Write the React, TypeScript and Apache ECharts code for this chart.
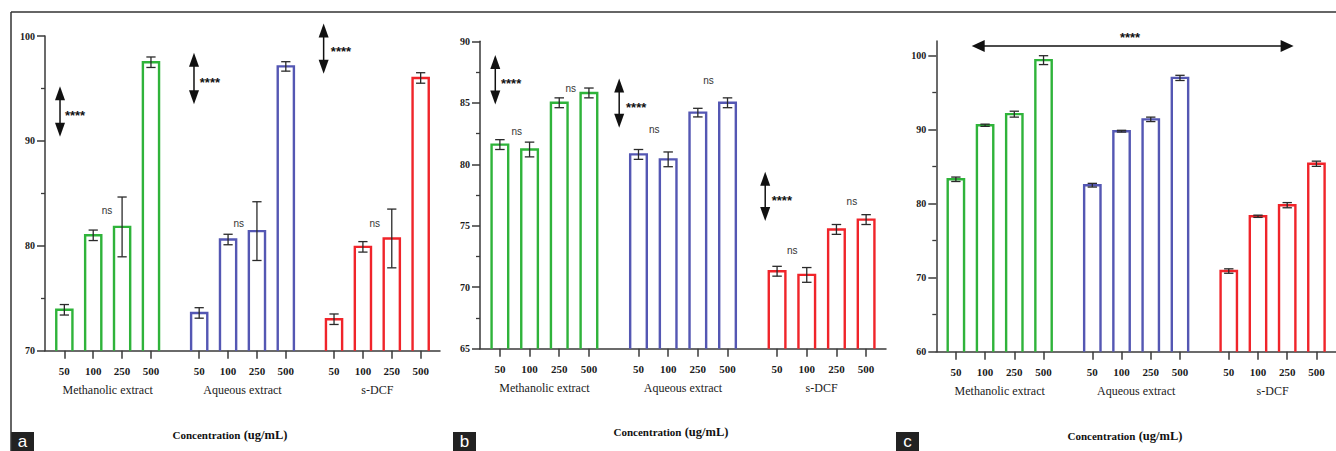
import React, { useEffect, useRef } from "react";
import * as echarts from "echarts";

// ---------- data ----------
const groups = ["Methanolic extract", "Aqueous extract", "s-DCF"];
const concentrations = ["50", "100", "250", "500"];
const groupColors = ["#2fb33a", "#5457b3", "#f0242a"];

const meansA = [73.9, 81.0, 81.8, 97.5, 73.6, 80.6, 81.4, 97.1, 73.0, 79.9, 80.7, 96.0];
const errorsA = [0.5, 0.5, 2.85, 0.5, 0.5, 0.5, 2.8, 0.45, 0.5, 0.5, 2.8, 0.5];
const meansB = [81.6, 81.2, 85.0, 85.8, 80.8, 80.4, 84.2, 85.0, 71.3, 71.0, 74.7, 75.5];
const errorsB = [0.4, 0.6, 0.4, 0.4, 0.4, 0.6, 0.35, 0.4, 0.4, 0.6, 0.4, 0.4];
const meansC = [83.3, 90.6, 92.1, 99.4, 82.5, 89.8, 91.4, 97.0, 70.9, 78.3, 79.8, 85.4];
const errorsC = [0.3, 0.15, 0.4, 0.6, 0.25, 0.12, 0.3, 0.35, 0.3, 0.15, 0.35, 0.35];

const yTicksA = [70, 80, 90, 100];
const yMinorA = [75, 85, 95];
const yTicksB = [65, 70, 75, 80, 85, 90];
const yMinorB = [67.5, 72.5, 77.5, 82.5, 87.5];
const yTicksC = [60, 70, 80, 90, 100];
const yMinorC = [65, 75, 85, 95];

// significance annotations (in axis units: x slot, y value)
const sigArrowsA = [[-0.15, 95.2, 90.4], [4.49, 98.4, 93.5], [8.98, 101.2, 96.4]];
const sigStarsA = [[0.02, 92.75], [4.69, 95.9], [9.23, 98.8]];
const nsA = [[1.475, 83.4], [6.04, 82.1], [10.75, 82.1]];

const sigArrowsB = [[-0.155, 88.88, 84.87], [4.02, 86.98, 82.97], [8.94, 79.39, 75.38]];
const sigStarsB = [[0.037, 86.85], [4.25, 84.9], [9.16, 77.33]];
const nsB = [[0.566, 82.7], [2.39, 86.14], [5.2, 82.8], [7.03, 86.85], [9.85, 73.0], [11.86, 76.95]];

const sigHArrowsC = [[0.542, 11.56, 101.3]];
const sigStarsC = [[5.96, 102.84]];

const panelLetters = ["a", "b", "c"];

// ---------- layout helpers ----------
const STRIDE = 4.67;
const PAD = 0.67;
const BAR_W = 0.56;
const CAP_HALF = 0.16;
const positions = groups.flatMap((_, g) => concentrations.map((__, i) => g * STRIDE + i));
const groupCenters = groups.map((_, g) => g * STRIDE + 1.5);
const X_MIN = -PAD;
const X_MAX = 2 * STRIDE + 3 + PAD;

const SERIF = "'Liberation Serif', 'Times New Roman', serif";
const SANS = "'Liberation Sans', Arial, sans-serif";
const AXIS_COLOR = "#3a3a3a";

const panels = [
  {
    means: meansA, errors: errorsA, yMin: 70, yMax: 100, yTicks: yTicksA, yMinor: yMinorA,
    grid: { left: 45, top: 36, width: 395, height: 314.7 },
    arrows: sigArrowsA, hArrows: [] as number[][], stars: sigStarsA, ns: nsA,
    title: { x: 230, y: 435 }, box: 11,
  },
  {
    means: meansB, errors: errorsB, yMin: 65, yMax: 90, yTicks: yTicksB, yMinor: yMinorB,
    grid: { left: 480, top: 41.3, width: 406, height: 307.4 },
    arrows: sigArrowsB, hArrows: [] as number[][], stars: sigStarsB, ns: nsB,
    title: { x: 671, y: 432 }, box: 453,
  },
  {
    means: meansC, errors: errorsC, yMin: 60, yMax: 102, yTicks: yTicksC, yMinor: yMinorC,
    grid: { left: 936.3, top: 40.9, width: 400, height: 310.8 },
    arrows: [] as number[][], hArrows: sigHArrowsC, stars: sigStarsC, ns: [] as number[][],
    title: { x: 1125, y: 436 }, box: 896,
  },
];

function buildOption() {
  const grid: any[] = [];
  const xAxis: any[] = [];
  const yAxis: any[] = [];
  const series: any[] = [];
  const graphic: any[] = [];

  panels.forEach((p, k) => {
    grid.push({ ...p.grid, containLabel: false });
    // main x axis: concentration labels
    xAxis.push({
      type: "value", gridIndex: k, min: X_MIN, max: X_MAX, position: "bottom", offset: 0,
      axisLine: { show: true, onZero: false, lineStyle: { color: AXIS_COLOR, width: 1.5 } },
      axisTick: { show: true, customValues: positions, length: 8, lineStyle: { color: AXIS_COLOR, width: 1.5 } },
      axisLabel: {
        show: true, customValues: positions, margin: 14.5,
        color: "#1a1a1a", fontFamily: SERIF, fontWeight: "bold", fontSize: 11,
        formatter: (v: number) => {
          const idx = positions.findIndex((q) => Math.abs(q - v) < 1e-6);
          return idx >= 0 ? concentrations[idx % 4] : "";
        },
      },
      splitLine: { show: false },
    });
    // group label axis
    xAxis.push({
      type: "value", gridIndex: k, min: X_MIN, max: X_MAX, position: "bottom", offset: 0,
      axisLine: { show: false, onZero: false },
      axisTick: { show: false },
      axisLabel: {
        show: true, customValues: groupCenters, margin: 33,
        color: "#1a1a1a", fontFamily: SERIF, fontSize: 12,
        formatter: (v: number) => {
          const idx = groupCenters.findIndex((q) => Math.abs(q - v) < 1e-6);
          return idx >= 0 ? groups[idx] : "";
        },
      },
      splitLine: { show: false },
    });
    // main y axis
    yAxis.push({
      type: "value", gridIndex: k, min: p.yMin, max: p.yMax, position: "left", offset: 0,
      axisLine: { show: true, onZero: false, lineStyle: { color: AXIS_COLOR, width: 1.5 } },
      axisTick: { show: true, customValues: p.yTicks, length: 8, lineStyle: { color: AXIS_COLOR, width: 1.5 } },
      axisLabel: {
        show: true, customValues: p.yTicks, margin: 10,
        color: "#1a1a1a", fontFamily: SERIF, fontWeight: "bold", fontSize: 10,
      },
      splitLine: { show: false },
    });
    // minor ticks y axis
    yAxis.push({
      type: "value", gridIndex: k, min: p.yMin, max: p.yMax, position: "left", offset: 0,
      axisLine: { show: false, onZero: false },
      axisTick: { show: true, customValues: p.yMinor, length: 4, lineStyle: { color: AXIS_COLOR, width: 1.3 } },
      axisLabel: { show: false },
      splitLine: { show: false },
    });

    const xi = k * 2;
    const yi = k * 2;
    const yMin = p.yMin;

    series.push({
      type: "custom", xAxisIndex: xi, yAxisIndex: yi, clip: false,
      data: positions.map((x, i) => [x, p.means[i], p.errors[i], Math.floor(i / 4)]),
      renderItem: (_params: any, api: any) => {
        const x = api.value(0), v = api.value(1), e = api.value(2), g = api.value(3);
        const top = api.coord([x, v]);
        const base = api.coord([x, yMin]);
        const w = api.size([BAR_W, 0])[0];
        const c = api.size([CAP_HALF, 0])[0];
        const hi = api.coord([x, v + e]);
        const lo = api.coord([x, v - e]);
        const es = { stroke: "#2a2a2a", lineWidth: 1.3 };
        return {
          type: "group",
          children: [
            {
              type: "polyline",
              shape: { points: [[top[0] - w / 2, base[1]], [top[0] - w / 2, top[1]], [top[0] + w / 2, top[1]], [top[0] + w / 2, base[1]]] },
              style: { stroke: groupColors[g], lineWidth: 2.4, fill: "none" },
            },
            { type: "line", shape: { x1: hi[0], y1: hi[1], x2: lo[0], y2: lo[1] }, style: es },
            { type: "line", shape: { x1: hi[0] - c, y1: hi[1], x2: hi[0] + c, y2: hi[1] }, style: es },
            { type: "line", shape: { x1: lo[0] - c, y1: lo[1], x2: lo[0] + c, y2: lo[1] }, style: es },
          ],
        };
      },
      z: 3,
    });

    if (p.arrows.length) {
      series.push({
        type: "custom", xAxisIndex: xi, yAxisIndex: yi, clip: false,
        data: p.arrows,
        renderItem: (_params: any, api: any) => {
          const a = api.coord([api.value(0), api.value(1)]);
          const b = api.coord([api.value(0), api.value(2)]);
          const hh = 14, hw = 5;
          return {
            type: "group",
            children: [
              { type: "line", shape: { x1: a[0], y1: a[1] + hh - 2, x2: b[0], y2: b[1] - hh + 2 }, style: { stroke: "#111", lineWidth: 1.5 } },
              { type: "polygon", shape: { points: [[a[0], a[1]], [a[0] - hw, a[1] + hh], [a[0] + hw, a[1] + hh]] }, style: { fill: "#111" } },
              { type: "polygon", shape: { points: [[b[0], b[1]], [b[0] - hw, b[1] - hh], [b[0] + hw, b[1] - hh]] }, style: { fill: "#111" } },
            ],
          };
        },
        z: 4,
      });
    }
    if (p.hArrows.length) {
      series.push({
        type: "custom", xAxisIndex: xi, yAxisIndex: yi, clip: false,
        data: p.hArrows,
        renderItem: (_params: any, api: any) => {
          const a = api.coord([api.value(0), api.value(2)]);
          const b = api.coord([api.value(1), api.value(2)]);
          const hl = 13, hw = 6;
          return {
            type: "group",
            children: [
              { type: "line", shape: { x1: a[0] + hl - 2, y1: a[1], x2: b[0] - hl + 2, y2: b[1] }, style: { stroke: "#111", lineWidth: 1.5 } },
              { type: "polygon", shape: { points: [[a[0], a[1]], [a[0] + hl, a[1] - hw], [a[0] + hl, a[1] + hw]] }, style: { fill: "#111" } },
              { type: "polygon", shape: { points: [[b[0], b[1]], [b[0] - hl, b[1] - hw], [b[0] - hl, b[1] + hw]] }, style: { fill: "#111" } },
            ],
          };
        },
        z: 4,
      });
    }
    series.push({
      type: "custom", xAxisIndex: xi, yAxisIndex: yi, clip: false,
      data: p.stars,
      renderItem: (_params: any, api: any) => {
        const pt = api.coord([api.value(0), api.value(1)]);
        const centered = k === 2;
        return {
          type: "text", x: pt[0], y: pt[1] + 3,
          style: { text: "****", fill: "#111", font: `bold 13px ${SANS}`, align: centered ? "center" : "left", verticalAlign: "middle" },
        };
      },
      z: 4,
    });
    if (p.ns.length) {
      series.push({
        type: "custom", xAxisIndex: xi, yAxisIndex: yi, clip: false,
        data: p.ns,
        renderItem: (_params: any, api: any) => {
          const pt = api.coord([api.value(0), api.value(1)]);
          return {
            type: "text", x: pt[0], y: pt[1],
            style: { text: "ns", fill: "#333", font: `10px ${SANS}`, align: "center", verticalAlign: "middle" },
          };
        },
        z: 4,
      });
    }

    // axis title
    graphic.push({
      type: "text", x: p.title.x, y: p.title.y,
      style: {
        text: "{a|Concentration} {b|(ug/mL)}",
        align: "center", verticalAlign: "middle",
        rich: {
          a: { fontFamily: SERIF, fontWeight: "bold", fontSize: 11, fill: "#111" },
          b: { fontFamily: SERIF, fontWeight: "bold", fontSize: 12.5, fill: "#111" },
        },
      },
    });
    // panel letter box
    graphic.push({ type: "rect", shape: { x: p.box, y: 432, width: 23, height: 19 }, style: { fill: "#222" } });
    graphic.push({
      type: "text", x: p.box + 11.5, y: 441.5,
      style: { text: panelLetters[k], fill: "#fff", font: `17px ${SANS}`, align: "center", verticalAlign: "middle" },
      z: 10,
    });
  });

  // frame
  graphic.push({ type: "line", shape: { x1: 11, y1: 12, x2: 1336, y2: 12 }, style: { stroke: "#333", lineWidth: 1.5 } });
  graphic.push({ type: "line", shape: { x1: 11, y1: 12, x2: 11, y2: 451 }, style: { stroke: "#333", lineWidth: 1.5 } });

  return { animation: false, backgroundColor: "#ffffff", grid, xAxis, yAxis, series, graphic };
}

export default function App() {
  const ref = useRef<HTMLDivElement>(null);
  useEffect(() => {
    document.body.style.margin = "0";
    if (!ref.current) return;
    const chart = echarts.init(ref.current, undefined, { renderer: "svg" });
    chart.setOption(buildOption() as any);
    return () => chart.dispose();
  }, []);
  return <div ref={ref} style={{ width: 1336, height: 451 }} />;
}
